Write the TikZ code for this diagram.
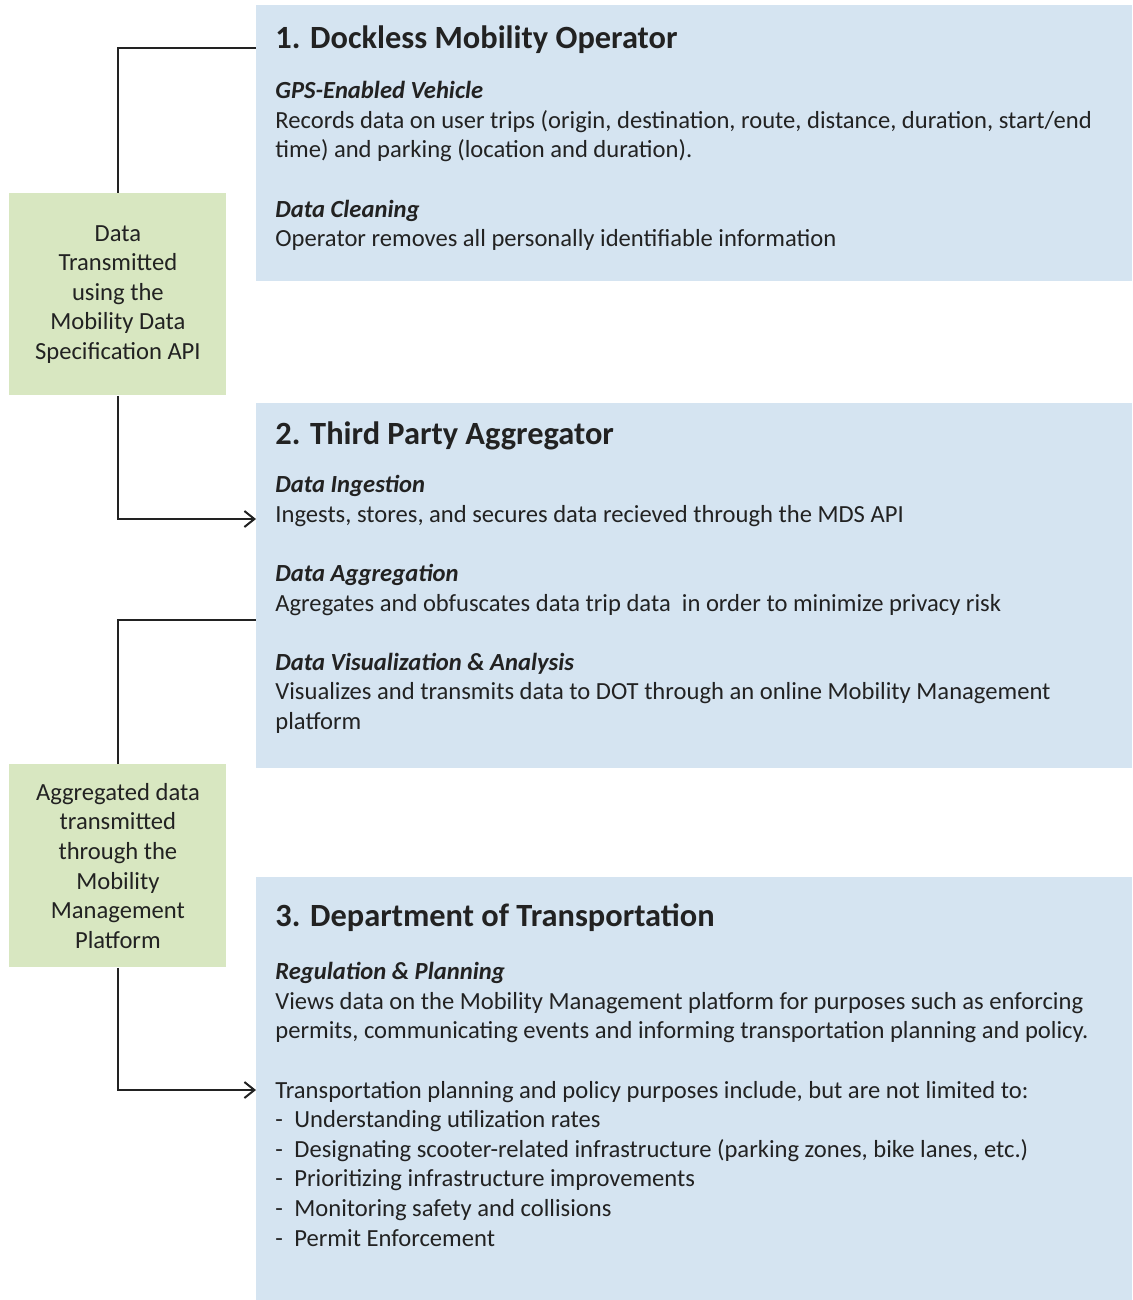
\documentclass[tikz,border=0pt]{standalone}
\usepackage{fontspec}
\setmainfont{Carlito}
\usepackage{xcolor}
\definecolor{stageblue}{HTML}{D5E4F1}
\definecolor{linkgreen}{HTML}{D8E7C1}
\definecolor{inkdark}{HTML}{222222}
\usepackage{tikz}
\usetikzlibrary{positioning,arrows.meta}
\newcommand{\listdash}[1]{\makebox[9.5pt][l]{-}#1}

\begin{document}
\begin{tikzpicture}[
  x=0.5pt, y=-0.5pt,
  font=\fontsize{12.3}{14.8}\selectfont, text=inkdark,
  stage/.style={
    fill=stageblue, draw=none, inner sep=0pt, anchor=north west,
    minimum width=438pt,
  },
  linkbox/.style={
    fill=linkgreen, draw=none, inner sep=0pt, anchor=north west,
    minimum width=108.5pt, minimum height=101pt, align=center,
  },
  stagetitle/.style={
    anchor=west, inner sep=0pt, font=\fontsize{16.2}{19}\selectfont\bfseries,
  },
  stagebody/.style={
    anchor=north west, inner sep=0pt, align=left,
  },
  link/.style={draw=inkdark, line width=1pt},
  feed/.style={link, -{Straight Barb[length=5pt,width=8pt]}},
]
\useasboundingbox (0,0) rectangle (1132,1300);

% Three stages of the data flow
\node[stage, minimum height=138pt] (operator) at (256,5) {};
\node[stage, minimum height=182.5pt] (aggregator) at (256,403) {};
\node[stage, minimum height=211.5pt] (dot) at (256,877) {};

% Transmission boxes on the left
\node[linkbox] (mds) at (9,193)
  {Data\\ Transmitted\\ using the\\ Mobility Data\\ Specification API};
\node[linkbox, minimum height=101.5pt] (mmp) at (9,764)
  {Aggregated data\\ transmitted\\ through the\\ Mobility\\ Management\\ Platform};

% Stage 1
\node[stagetitle] (operatorTitle) at (275,40) {1. Dockless Mobility Operator};
\node[stagebody] (operatorText) at (275,81) {%
  \textbf{\textit{GPS-Enabled Vehicle}}\\
  Records data on user trips (origin, destination, route, distance, duration, start/end\\
  time) and parking (location and duration).\\[14.8pt]
  \textbf{\textit{Data Cleaning}}\\
  Operator removes all personally identifiable information};

% Stage 2
\node[stagetitle] (aggregatorTitle) at (275,436) {2. Third Party Aggregator};
\node[stagebody] (aggregatorText) at (275,475) {%
  \textbf{\textit{Data Ingestion}}\\
  Ingests, stores, and secures data recieved through the MDS API\\[14.8pt]
  \textbf{\textit{Data Aggregation}}\\
  Agregates and obfuscates data trip data \ in order to minimize privacy risk\\[14.8pt]
  \textbf{\textit{Data Visualization \& Analysis}}\\
  Visualizes and transmits data to DOT through an online Mobility Management\\
  platform};

% Stage 3
\node[stagetitle] (dotTitle) at (275,918) {3. Department of Transportation};
\node[stagebody] (dotText) at (275,962) {%
  \textbf{\textit{Regulation \& Planning}}\\
  Views data on the Mobility Management platform for purposes such as enforcing\\
  permits, communicating events and informing transportation planning and policy.\\[14.8pt]
  Transportation planning and policy purposes include, but are not limited to:\\
  \listdash{Understanding utilization rates}\\
  \listdash{Designating scooter-related infrastructure (parking zones, bike lanes, etc.)}\\
  \listdash{Prioritizing infrastructure improvements}\\
  \listdash{Monitoring safety and collisions}\\
  \listdash{Permit Enforcement}};

% Connector end points on the stage edges
\coordinate (operatorOut) at (256,48);
\coordinate (aggregatorIn) at (256,519);
\coordinate (aggregatorOut) at (256,620);
\coordinate (dotIn) at (256,1090);

\draw[link] (mds.north) |- (operatorOut);
\draw[feed] (mds.south) |- (aggregatorIn);
\draw[link] (mmp.north) |- (aggregatorOut);
\draw[feed] (mmp.south) |- (dotIn);

\end{tikzpicture}
\end{document}
